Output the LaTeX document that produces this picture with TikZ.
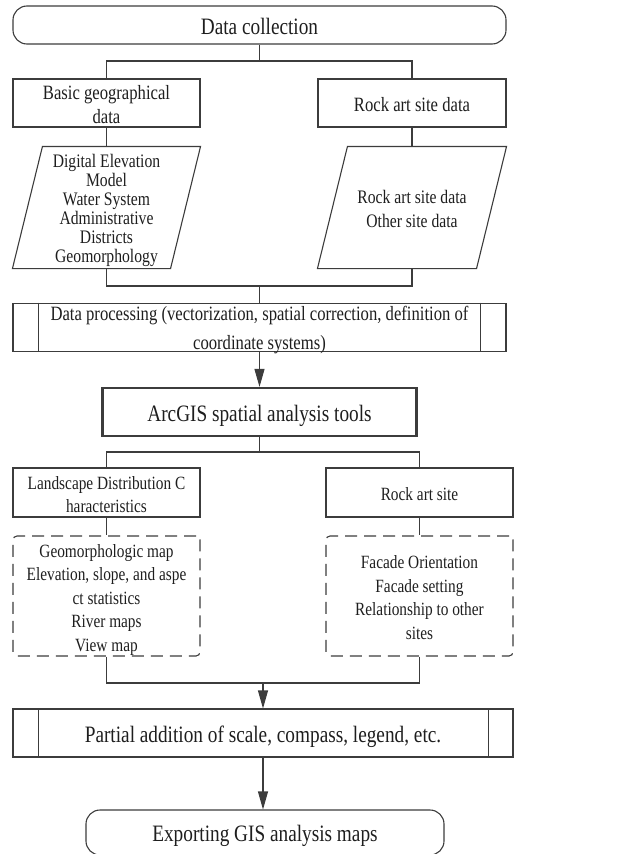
\documentclass[tikz,border=0pt]{standalone}
\usepackage{fontspec}
\setmainfont{Liberation Serif}[FakeStretch=0.82]
\usetikzlibrary{arrows.meta}
\definecolor{linegray}{HTML}{3C3C3C}
\definecolor{textgray}{HTML}{1E1E1E}
\def\colW{187pt}
\def\barW{25.7pt}
\def\slant{30pt}
\newcommand{\topfont}{\fontsize{20.3}{24}\selectfont}
\newcommand{\lowfont}{\fontsize{18.7}{23.5}\selectfont}
\newcommand{\bigfont}{\fontsize{23.5}{28}\selectfont}
% text sits a little below the middle of each box
\newcommand{\txt}[1]{\raisebox{-3.5pt}[\height][\depth]{\begin{tabular}{@{}c@{}}#1\end{tabular}}}
\newcommand{\sidebars}[2]{%
% #1 = node, #2 = inset of the right bar
\draw ([xshift=\barW]#1.north west) -- ([xshift=\barW]#1.south west);
\draw ([xshift=-#2]#1.north east) -- ([xshift=-#2]#1.south east);
}
\newcommand{\paraoutline}[1]{%
\draw ([xshift=\slant]#1.north west) -- (#1.north east)
  -- ([xshift=-\slant]#1.south east) -- (#1.south west) -- cycle;
}
\begin{document}
\begin{tikzpicture}[
    x=1pt, y=-1pt,
    line width=1.1pt, draw=linegray,
    >={Triangle[length=18pt,width=10pt]},
    box/.style={draw=linegray, rectangle, inner sep=0pt,
        text=textgray, minimum width=\colW, minimum height=48pt, font=\topfont},
    terminal/.style={box, rounded corners=14pt, font=\bigfont},
    paratext/.style={box, draw=none, minimum height=121pt},
    dashbox/.style={box, dash pattern=on 12pt off 7pt, rounded corners=4pt,
        minimum height=120pt, font=\lowfont}
]
\useasboundingbox (0,0) rectangle (624,854);

% top part
\node[terminal, minimum width=493pt, minimum height=38pt] (collect) at (259.5,25) {\txt{Data collection}};
\node[box] (basic) at (106.5,103) {\txt{Basic geographical\\data}};
\node[box, minimum width=188pt] (rocksite) at (412,103) {\txt{Rock art site data}};
\node[paratext, font=\fontsize{19.1}{19}\selectfont] (geodata) at (106.5,207.5)
    {\txt{Digital Elevation\\Model\\Water System\\Administrative\\Districts\\Geomorphology}};
\node[paratext, minimum width=188pt, font=\fontsize{19.1}{24}\selectfont] (sitedata) at (412,207.5)
    {\txt{Rock art site data\\Other site data}};
\paraoutline{geodata}
\paraoutline{sitedata}
\coordinate (split1) at (259.5,61);
\coordinate (join1) at (259.5,286);
\draw (collect) -- (split1);
\draw (split1) -| (basic.north);
\draw (split1) -| (rocksite.north);
\draw (basic) -- (geodata);
\draw (rocksite) -- (sitedata);
\draw (geodata.south) |- (join1);
\draw (sitedata.south) |- (join1);

% processing
\node[box, minimum width=493pt, minimum height=47pt, font=\fontsize{20.3}{19}\selectfont] (process) at (259.5,327.5)
    {\txt{Data processing (vectorization, spatial correction, definition of\\[9pt]coordinate systems)}};
\sidebars{process}{\barW}
\draw (join1) -- (process);
\node[box, line width=2.2pt, minimum width=314pt, font=\bigfont] (arcgis) at (259.5,412) {\txt{ArcGIS spatial analysis tools}};
\draw[->] (process) -- (arcgis);

% analysis
\node[box, minimum height=49pt, font=\fontsize{18.7}{23}\selectfont] (landscape) at (106.5,492.5)
    {\txt{Landscape Distribution C\\haracteristics}};
\node[box, minimum height=49pt, font=\lowfont] (rockart) at (419.5,492.5) {\txt{Rock art site}};
\node[dashbox] (landmaps) at (106.5,596)
    {\txt{Geomorphologic map\\Elevation, slope, and aspe\\ct statistics\\River maps\\View map}};
\node[dashbox] (sitefeat) at (419.5,596)
    {\txt{Facade Orientation\\Facade setting\\Relationship to other\\sites}};
\coordinate (split2) at (259.5,452);
\coordinate (join2) at (263,683);
\draw (arcgis) -- (split2);
\draw (split2) -| (landscape.north);
\draw (split2) -| (rockart.north);
\draw (landscape) -- (landmaps);
\draw (rockart) -- (sitefeat);
\draw (landmaps.south) |- (join2);
\draw (sitefeat.south) |- (join2);

% output
\node[box, minimum width=500pt, font=\bigfont] (partial) at (263,733)
    {\txt{Partial addition of scale, compass, legend, etc.}};
\sidebars{partial}{25pt}
\draw[->] (join2) -- (partial);
\node[terminal, minimum width=358pt, minimum height=45pt] (export) at (265,832.5) {\txt{Exporting GIS analysis maps}};
\draw[->] (partial.south) -- (partial.south |- export.north);
\end{tikzpicture}
\end{document}
